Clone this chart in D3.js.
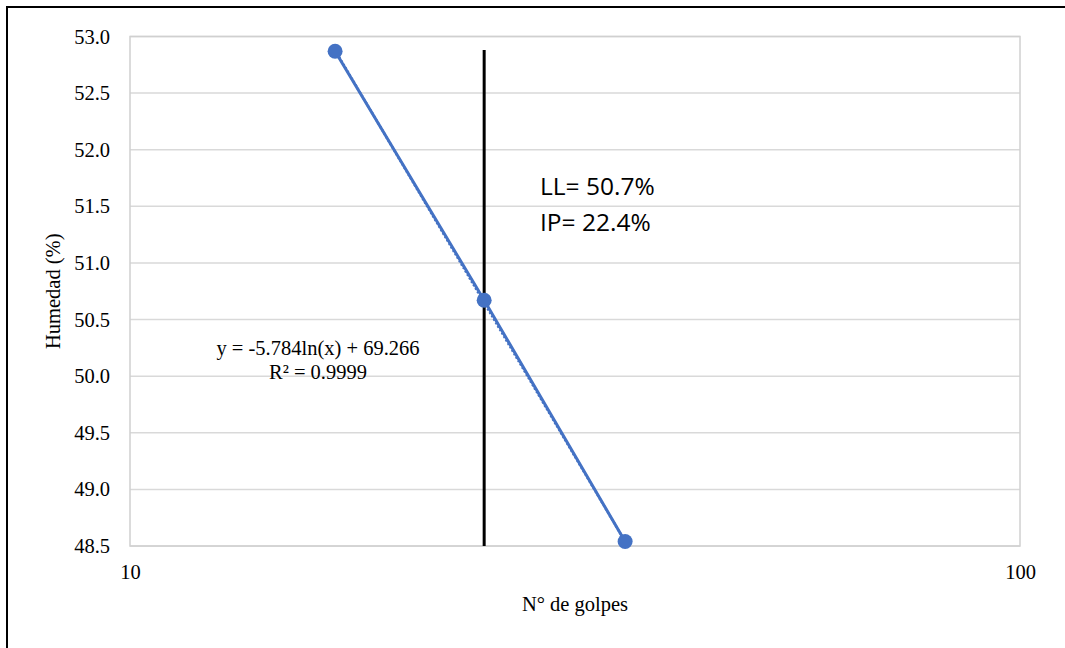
<!DOCTYPE html>
<html>
<head>
<meta charset="utf-8">
<script src="https://cdn.jsdelivr.net/npm/d3@7"></script>
<style>
  html, body { margin: 0; padding: 0; background: #fff; }
  svg { display: block; }
  .serif { font-family: "Liberation Serif", "DejaVu Serif", serif; }
  .calib { font-family: "Open Sans", Lato, sans-serif; }
</style>
</head>
<body>
<svg id="chart" width="1065" height="648"></svg>
<script>
// Número de golpes y humedad de cada ensayo
const golpes = [17, 25, 36];
const humedad = [52.87, 50.67, 48.54];

// Línea vertical en N = 25 golpes
const guiaX = [25, 25];
const guiaY = [48.5, 52.88];

// Ajuste logarítmico
const coefA = -5.784;
const coefB = 69.266;
const ecuacion = ["y = -5.784ln(x) + 69.266", "R² = 0.9999"];
const resultados = ["LL= 50.7%", "IP= 22.4%"];

const yTicks = [48.5, 49.0, 49.5, 50.0, 50.5, 51.0, 51.5, 52.0, 52.5, 53.0];
const xTicks = [10, 100];

const svg = d3.select("#chart");
const W = 1065, H = 648;
const plot = { left: 130, right: 1020, top: 36.5, bottom: 546 };

const fs = 20.5;
const blue = "#4472C4";

// Marco exterior
svg.append("rect")
  .attr("x", 7).attr("y", 7)
  .attr("width", W + 20).attr("height", H + 20)
  .attr("fill", "none").attr("stroke", "#000").attr("stroke-width", 2);

const x = d3.scaleLog().domain([10, 100]).range([plot.left, plot.right]);
const y = d3.scaleLinear().domain([48.5, 53.0]).range([plot.bottom, plot.top]);

// Cuadrícula horizontal
svg.append("g")
  .selectAll("line")
  .data(yTicks)
  .join("line")
  .attr("x1", plot.left).attr("x2", plot.right)
  .attr("y1", d => y(d)).attr("y2", d => y(d))
  .attr("stroke", "#d9d9d9").attr("stroke-width", 1.5);

// Borde del área de trazado
svg.append("rect")
  .attr("x", plot.left).attr("y", plot.top)
  .attr("width", plot.right - plot.left).attr("height", plot.bottom - plot.top)
  .attr("fill", "none").attr("stroke", "#d0d0d0").attr("stroke-width", 1.5);

// Eje Y
const yAxis = svg.append("g")
  .attr("transform", `translate(${plot.left},0)`)
  .call(d3.axisLeft(y).tickValues(yTicks).tickFormat(d3.format(".1f")).tickSize(0).tickPadding(20));
yAxis.attr("font-family", null).attr("font-size", null);
yAxis.select(".domain").remove();
yAxis.selectAll("text")
  .attr("class", "serif").style("font-size", fs + "px").attr("fill", "#000");

// Eje X
const xAxis = svg.append("g")
  .attr("transform", `translate(0,${plot.bottom})`)
  .call(d3.axisBottom(x).tickValues(xTicks).tickFormat(d3.format("d")).tickSize(0).tickPadding(18));
xAxis.attr("font-family", null).attr("font-size", null);
xAxis.select(".domain").remove();
xAxis.selectAll("text")
  .attr("class", "serif").style("font-size", fs + "px").attr("fill", "#000");

// Títulos de ejes
svg.append("text")
  .attr("class", "serif")
  .attr("transform", `translate(55,${(plot.top + plot.bottom) / 2}) rotate(-90)`)
  .attr("text-anchor", "middle").attr("dominant-baseline", "middle")
  .style("font-size", fs + "px")
  .text("Humedad (%)");

svg.append("text")
  .attr("class", "serif")
  .attr("x", 575).attr("y", 611)
  .attr("text-anchor", "middle")
  .style("font-size", fs + "px")
  .text("N° de golpes");

// Línea de tendencia logarítmica (punteada, bajo la serie)
const xt = d3.extent(golpes);
const trendPts = d3.range(0, 21).map(i => {
  const g = xt[0] * Math.pow(xt[1] / xt[0], i / 20);
  return [g, coefA * Math.log(g) + coefB];
});
svg.append("path")
  .datum(trendPts)
  .attr("d", d3.line().x(d => x(d[0])).y(d => y(d[1])))
  .attr("fill", "none").attr("stroke", blue).attr("stroke-width", 2.5)
  .attr("stroke-dasharray", "2,2");

// Línea vertical de referencia
svg.append("path")
  .datum(d3.zip(guiaX, guiaY))
  .attr("d", d3.line().x(d => x(d[0])).y(d => y(d[1])))
  .attr("fill", "none").attr("stroke", "#000").attr("stroke-width", 3);

// Serie de datos
const datos = d3.zip(golpes, humedad);
svg.append("path")
  .datum(datos)
  .attr("d", d3.line().x(d => x(d[0])).y(d => y(d[1])))
  .attr("fill", "none").attr("stroke", blue).attr("stroke-width", 3);

svg.append("g")
  .selectAll("circle")
  .data(datos)
  .join("circle")
  .attr("cx", d => x(d[0])).attr("cy", d => y(d[1]))
  .attr("r", 7.5)
  .attr("fill", blue);

// Ecuación del ajuste
svg.append("g")
  .selectAll("text")
  .data(ecuacion)
  .join("text")
  .attr("class", "serif")
  .attr("x", 318).attr("y", (d, i) => 355 + i * 24)
  .attr("text-anchor", "middle")
  .style("font-size", fs + "px")
  .text(d => d);

// Resultados
svg.append("g")
  .selectAll("text")
  .data(resultados)
  .join("text")
  .attr("class", "calib")
  .attr("x", 540).attr("y", (d, i) => 195 + i * 36)
  .style("font-size", "24.5px")
  .attr("fill", "#000")
  .text(d => d);
</script>
</body>
</html>
